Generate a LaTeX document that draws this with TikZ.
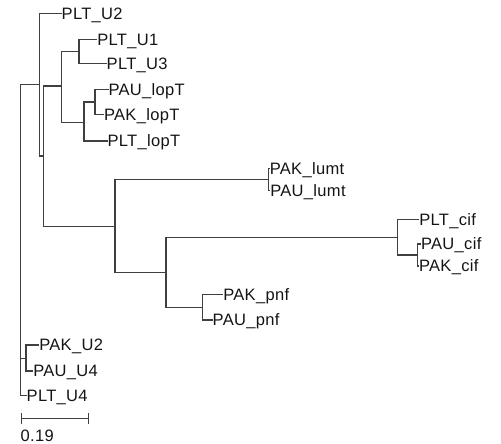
\documentclass[tikz,border=0pt]{standalone}
\usepackage{fontspec}
\setmainfont{Liberation Sans}[LetterSpace=2]
\usetikzlibrary{arrows.meta}

\begin{document}
\begin{tikzpicture}[
    x=1pt, y=-1pt,
    font=\fontsize{16.5}{19}\selectfont,
    br/.style={draw=black!75, line width=1.1pt},
    leaf/.style={anchor=west, inner sep=0pt, outer sep=0pt, text height=11.8pt, text depth=0pt, text=black!92},
    sbar/.style={draw=black!75, line width=1.1pt, {Bar[width=10.6pt]}-{Bar[width=10.6pt]}}
]
\useasboundingbox (0,0) rectangle (501,444);

% inner nodes of the tree
\coordinate (root) at (20.7,240);
\coordinate (n1) at (39.3,84.7);
\coordinate (n2) at (43.3,156);
\coordinate (n3) at (61.7,86);
\coordinate (n4) at (79,51.5);
\coordinate (n5) at (84,122.3);
\coordinate (n6) at (95,102);
\coordinate (n8) at (115,226.3);
\coordinate (n9) at (268.3,179.3);
\coordinate (n10) at (166,272.3);
\coordinate (n11) at (397.3,237.3);
\coordinate (n12) at (417.3,255);
\coordinate (n13) at (202.3,307.3);
\coordinate (n14) at (26,358.5);

% leaves
\node[leaf] (plt_u2) at (61.7,13.3) {PLT\_U2};
\node[leaf] (plt_u1) at (97.3,39.3) {PLT\_U1};
\node[leaf] (plt_u3) at (106.7,63.3) {PLT\_U3};
\node[leaf] (pau_lopT) at (108.5,89.3) {PAU\_lopT};
\node[leaf] (pak_lopT) at (104,114.5) {PAK\_lopT};
\node[leaf] (plt_lopT) at (107.5,141) {PLT\_lopT};
\node[leaf] (pak_lumt) at (269.8,168.3) {PAK\_lumt};
\node[leaf] (pau_lumt) at (270.3,190.7) {PAU\_lumt};
\node[leaf] (plt_cif) at (419.3,219.5) {PLT\_cif};
\node[leaf] (pau_cif) at (421,244) {PAU\_cif};
\node[leaf] (pak_cif) at (419,266) {PAK\_cif};
\node[leaf] (pak_pnf) at (223.3,294.3) {PAK\_pnf};
\node[leaf] (pau_pnf) at (212.7,320) {PAU\_pnf};
\node[leaf] (pak_u2) at (39.3,345) {PAK\_U2};
\node[leaf] (pau_u4) at (33.3,371) {PAU\_U4};
\node[leaf] (plt_u4) at (26.7,395.7) {PLT\_U4};

% branches
\draw[br] (root) |- (n1);
\draw[br] (root) |- (n14);
\draw[br] (root) |- (plt_u4);
\draw[br] (n1) |- (plt_u2);
\draw[br] (n1) |- (n2);
\draw[br] (n2) |- (n3);
\draw[br] (n2) |- (n8);
\draw[br] (n3) |- (n4);
\draw[br] (n3) |- (n5);
\draw[br] (n4) |- (plt_u1);
\draw[br] (n4) |- (plt_u3);
\draw[br] (n5) |- (n6);
\draw[br] (n5) |- (plt_lopT);
\draw[br] (n6) |- (pau_lopT);
\draw[br] (n6) |- (pak_lopT);
\draw[br] (n8) |- (n9);
\draw[br] (n8) |- (n10);
\draw[br] (n9) |- (pak_lumt);
\draw[br] (n9) |- (pau_lumt);
\draw[br] (n10) |- (n11);
\draw[br] (n10) |- (n13);
\draw[br] (n11) |- (plt_cif);
\draw[br] (n11) |- (n12);
\draw[br] (n12) |- (pau_cif);
\draw[br] (n12) |- (pak_cif);
\draw[br] (n13) |- (pak_pnf);
\draw[br] (n13) |- (pau_pnf);
\draw[br] (n14) |- (pak_u2);
\draw[br] (n14) |- (pau_u4);

% scale bar
\coordinate (sb_l) at (20.7,418.3);
\coordinate (sb_r) at (89,418.3);
\draw[sbar] (sb_l) -- (sb_r);
\node[leaf] (sb_lbl) at (20.7,435.8) {0.19};
\end{tikzpicture}
\end{document}
